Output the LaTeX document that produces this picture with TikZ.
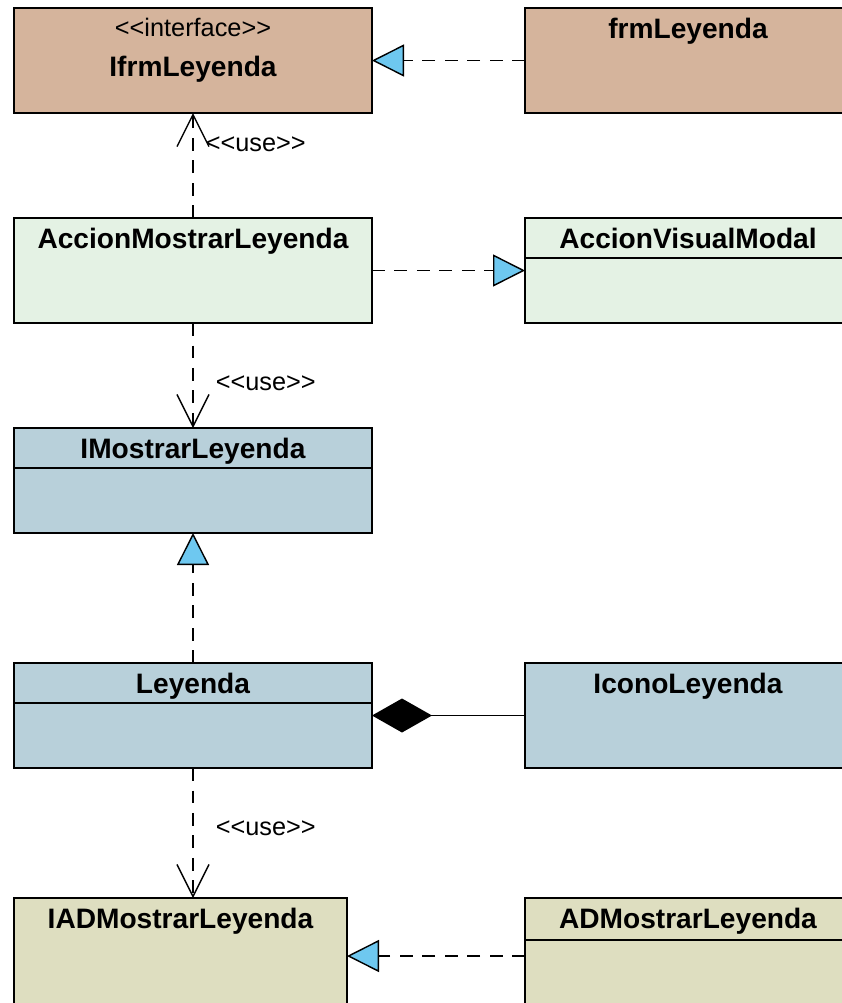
\documentclass[tikz,border=0pt]{standalone}
\usepackage{fontspec}
\setmainfont{Liberation Sans}
\usetikzlibrary{arrows.meta,positioning,calc}

\definecolor{formtan}{RGB}{213,180,156}
\definecolor{actiongreen}{RGB}{228,242,228}
\definecolor{logicblue}{RGB}{184,208,218}
\definecolor{datakhaki}{RGB}{222,222,192}
\definecolor{realizcyan}{RGB}{110,200,240}

\newcommand{\stype}[1]{<{}<#1>{}>}

\begin{document}
\begin{tikzpicture}[
    node distance=2.625cm and 3.825cm,
    classbox/.style={rectangle, draw, line width=1.2pt, minimum width=8.95cm, minimum height=2.625cm, inner sep=0pt, outer sep=0pt},
    sidebox/.style={classbox, minimum width=8.15cm},
    cname/.style={font=\fontsize{20}{24}\selectfont\bfseries, inner sep=0pt, anchor=base},
    stereo/.style={font=\fontsize{18}{22}\selectfont, inner sep=0pt},
    divider/.style={line width=1.2pt},
    dep/.style={line width=1.1pt, dash pattern=on 9pt off 7pt},
    use/.style={dep, -{Straight Barb[length=0.8cm, width=0.8cm, line width=1pt]}},
    realize/.style={dep, -{Triangle[fill=realizcyan, length=0.8cm, width=0.8cm, line width=1pt]}},
    compose/.style={line width=1pt, {Diamond[length=1.5cm, width=0.85cm]}-}
]

\useasboundingbox (0,0) rectangle (21.05,-25.075);

% Forms
\node [classbox, fill=formtan] (ifrm) at (4.825,-1.5125) {};
\node [sidebox, fill=formtan, right=of ifrm] (frm) {};

\node [stereo, anchor=base] (ifrmstereo) at ([yshift=-0.7cm]ifrm.north) {\stype{interface}};
\node [cname] (ifrmname) at ([yshift=-1.7cm]ifrm.north) {IfrmLeyenda};
\node [cname] (frmname) at ([yshift=-0.75cm]frm.north) {frmLeyenda};

% Actions
\node [classbox, fill=actiongreen, below=of ifrm] (amost) {};
\node [sidebox, fill=actiongreen, right=of amost] (avis) {};

\node [cname] (amostname) at ([yshift=-0.75cm]amost.north) {AccionMostrarLeyenda};
\node [cname] (avisname) at ([yshift=-0.75cm]avis.north) {AccionVisualModal};
\draw [divider] ([yshift=-1cm]avis.north west) -- ([yshift=-1cm]avis.north east);

% Logic
\node [classbox, fill=logicblue, below=of amost] (imost) {};
\node [cname] (imostname) at ([yshift=-0.75cm]imost.north) {IMostrarLeyenda};
\draw [divider] ([yshift=-1cm]imost.north west) -- ([yshift=-1cm]imost.north east);

\node [classbox, fill=logicblue, below=3.25cm of imost] (ley) {};
\node [sidebox, fill=logicblue, right=of ley] (icono) {};

\node [cname] (leyname) at ([yshift=-0.75cm]ley.north) {Leyenda};
\node [cname] (icononame) at ([yshift=-0.75cm]icono.north) {IconoLeyenda};
\draw [divider] ([yshift=-1cm]ley.north west) -- ([yshift=-1cm]ley.north east);

% Data access
\node [classbox, fill=datakhaki, minimum width=8.325cm, minimum height=2.9cm, below=3.25cm of ley.south west, anchor=north west] (iad) {};
\node [sidebox, fill=datakhaki, minimum height=2.9cm, right=4.45cm of iad] (admos) {};

\node [cname] (iadname) at ([yshift=-0.75cm]iad.north) {IADMostrarLeyenda};
\node [cname] (admosname) at ([yshift=-0.75cm]admos.north) {ADMostrarLeyenda};
\draw [divider] ([yshift=-1.05cm]admos.north west) -- ([yshift=-1.05cm]admos.north east);

% Relations
\draw [realize] (frm.west) -- (ifrm.east);
\draw [use] (amost.north) -- node [stereo, right=0.3cm, pos=0.7] (use1) {\stype{use}} (ifrm.south);
\draw [realize] (amost.east) -- (avis.west);
\draw [use] (amost.south) -- node [stereo, right=0.55cm, pos=0.57] (use2) {\stype{use}} (imost.north);
\draw [realize] (ley.north) -- (imost.south);
\draw [compose] (ley.east) -- (icono.west);
\draw [use] (ley.south) -- node [stereo, right=0.55cm, pos=0.46] (use3) {\stype{use}} (ley.south |- iad.north);
\draw [realize] (admos.west) -- (iad.east);

\end{tikzpicture}
\end{document}
